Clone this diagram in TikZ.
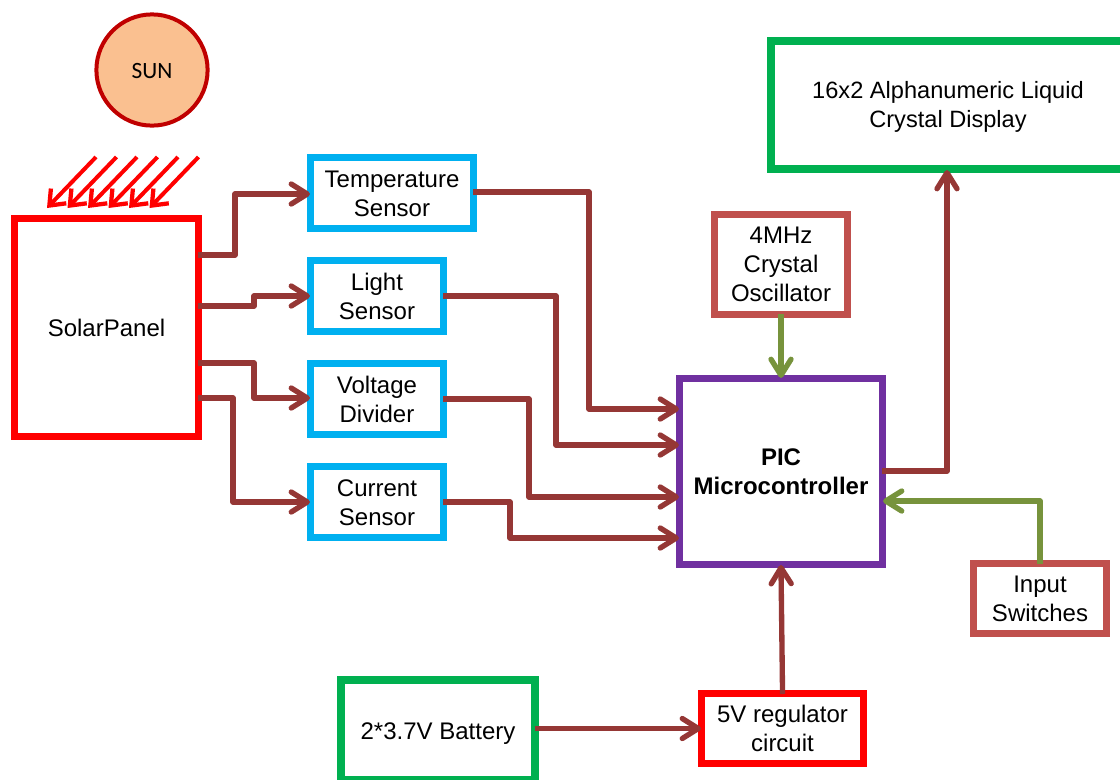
\documentclass[tikz,border=0pt]{standalone}
\usepackage{fontspec}
\setmainfont{Liberation Sans}
\newfontfamily\sunfont{Carlito}
\usetikzlibrary{arrows.meta}
\definecolor{wirered}{HTML}{953735}
\definecolor{wiregreen}{HTML}{77933C}
\definecolor{boxblue}{HTML}{00B0F0}
\definecolor{boxgreen}{HTML}{00B050}
\definecolor{boxrose}{HTML}{C0504D}
\definecolor{boxpurple}{HTML}{7030A0}
\definecolor{sunfill}{HTML}{FAC090}
\definecolor{sunline}{HTML}{C00000}
\newcommand{\dnA}{\rule{0pt}{13.6pt}}
\newcommand{\dnB}{\rule{0pt}{16pt}}
\tikzset{
  x=0.75pt,y=-0.75pt,
  every node/.style={font=\fontsize{18}{21.75}\selectfont,align=center,inner sep=0pt,text=black},
  blockbox/.style={draw=#1,fill=white,line width=5.5pt},
  wire/.style={draw=#1,line width=4pt,line join=round,shorten >=-2.2pt,shorten <=-3pt,
    -{Straight Barb[length=12pt,width=15pt,line width=4pt,round]}},
  wire/.default=wirered,
  ray/.style={draw=red,line width=3pt,
    -{Straight Barb[length=10pt,width=16pt,line width=3.2pt]}}
}
\begin{document}
\begin{tikzpicture}
\useasboundingbox (0,0) rectangle (1120,779);
% blocks
\node[draw=sunline,fill=sunfill,line width=3pt,circle,minimum size=83.4pt,font=\sunfont\fontsize{17.5}{20}\selectfont] (sun) at (152,70) {\rule{0pt}{12.8pt}SUN};
\node[blockbox=red,minimum width=137.75pt,minimum height=163.25pt] (solar) at (106.5,327.5) {SolarPanel};
\node[blockbox=boxblue,minimum width=122pt,minimum height=53pt] (temp) at (392,193) {\dnA Temperature\\Sensor};
\node[blockbox=boxblue,minimum width=99.5pt,minimum height=53pt] (light) at (377,296) {\dnA Light\\Sensor};
\node[blockbox=boxblue,minimum width=99.5pt,minimum height=53pt] (volt) at (377,399) {\dnA Voltage\\Divider};
\node[blockbox=boxblue,minimum width=99.5pt,minimum height=53pt] (curr) at (377,502) {\dnA Current\\Sensor};
\node[blockbox=boxpurple,minimum width=152pt,minimum height=139.25pt,font=\bfseries\fontsize{18}{21.75}\selectfont] (pic) at (781,471.5) {PIC\\Microcontroller};
\node[blockbox=boxrose,minimum width=99.5pt,minimum height=74.75pt] (xtal) at (781,264.5) {4MHz\\Crystal\\Oscillator};
\node[blockbox=boxgreen,line width=6pt,minimum width=265.5pt,minimum height=96pt,font=\fontsize{17.7}{21.75}\selectfont] (lcd) at (948,105) {\dnB 16x2 Alphanumeric Liquid\\Crystal Display};
\node[blockbox=boxrose,minimum width=99.5pt,minimum height=52.25pt] (input) at (1040,598.5) {\dnA Input\\Switches};
\node[blockbox=boxgreen,minimum width=145.5pt,minimum height=74.8pt] (batt) at (438,730) {\rule{0pt}{17.6pt}2*3.7V Battery};
\node[blockbox=red,minimum width=121.25pt,minimum height=52.25pt] (reg) at (782.5,728.5) {5V regulator\\circuit};
% rays
\foreach \i in {0,...,5}{
  \coordinate (rayS\i) at ({96+20.5*\i},157);
  \coordinate (rayE\i) at ({47+20.5*\i},208);
  \draw[ray] (rayS\i) -- (rayE\i);
}
% wires
\draw[wire] (solar.east |- 0,255) -- (235,255) -- (235,194) -- (temp.west |- 0,194);
\draw[wire] (solar.east |- 0,306) -- (254,306) -- (254,296) -- (light.west);
\draw[wire] (solar.east |- 0,363) -- (254,363) -- (254,398) -- (volt.west |- 0,398);
\draw[wire] (solar.east |- 0,398) -- (233,398) -- (233,502) -- (curr.west);
\draw[wire] (temp.east |- 0,192) -- (589,192) -- (589,409) -- (pic.west |- 0,409);
\draw[wire] (light.east) -- (556,296) -- (556,445) -- (pic.west |- 0,445);
\draw[wire] (volt.east) -- (529,399) -- (529,497) -- (pic.west |- 0,497);
\draw[wire] (curr.east) -- (510,502) -- (510,538) -- (pic.west |- 0,538);
\draw[wire=wiregreen] (xtal.south) -- (pic.north);
\draw[wire] (pic.east |- 0,471) -- (947,471) -- (lcd.south -| 947,0);
\draw[wire=wiregreen] (input.north) -- (1040,501) -- (pic.east |- 0,501);
\draw[wire] (reg.north) -- (pic.south);
\draw[wire] (batt.east |- reg.west) -- (reg.west);
\end{tikzpicture}
\end{document}
